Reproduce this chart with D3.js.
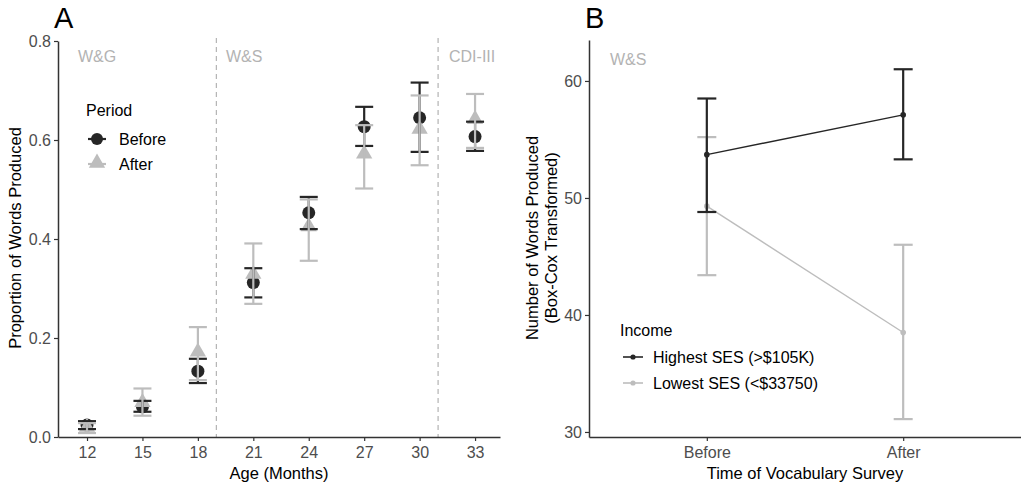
<!DOCTYPE html>
<html>
<head>
<meta charset="utf-8">
<script src="https://cdn.jsdelivr.net/npm/d3@7"></script>
<style>
  body { margin: 0; background: #fff; }
  svg { font-family: "Liberation Sans", Arial, sans-serif; }
</style>
</head>
<body>
<div class="vis"></div>
<script>
// ---- data, panel A ----
var ages = [12, 15, 18, 21, 24, 27, 30, 33];
var beforeMean = [0.024, 0.061, 0.133, 0.312, 0.453, 0.627, 0.645, 0.607];
var beforeLo   = [0.016, 0.051, 0.109, 0.282, 0.420, 0.588, 0.576, 0.578];
var beforeHi   = [0.032, 0.073, 0.158, 0.341, 0.485, 0.667, 0.716, 0.637];
var afterMean  = [0.018, 0.068, 0.170, 0.327, 0.423, 0.570, 0.620, 0.640];
var afterLo    = [0.008, 0.043, 0.115, 0.269, 0.356, 0.502, 0.549, 0.584];
var afterHi    = [0.028, 0.098, 0.222, 0.391, 0.480, 0.630, 0.690, 0.693];
var formLabels = ["W&G", "W&S", "CDI-III"];
var formBreaks = [19, 31];

// ---- data, panel B ----
var times = ["Before", "After"];
var highMean = [53.7, 57.1];
var highLo   = [48.8, 53.3];
var highHi   = [58.5, 61.0];
var lowMean  = [49.3, 38.5];
var lowLo    = [43.4, 31.1];
var lowHi    = [55.2, 46.0];
var incomeLabels = ["Highest SES (>$105K)", "Lowest SES (<$33750)"];

var dark = "#262626", light = "#bdbdbd", axisCol = "#333333", tickText = "#4d4d4d";
var FS = 16;

var svg = d3.select(".vis").append("svg")
  .attr("width", 1021).attr("height", 486);

function styleAxis(a) {
  a.select(".domain").attr("stroke", axisCol).attr("stroke-width", 1.5);
  a.selectAll(".tick line").attr("stroke", axisCol).attr("stroke-width", 1.2);
  a.selectAll(".tick text").attr("fill", tickText).attr("font-size", FS)
    .attr("font-family", "Liberation Sans, Arial, sans-serif");
}

function errBars(g, rows, x, y, lo, hi, col, w, sw) {
  var eb = g.append("g");
  rows.forEach(function(d) {
    var cx = x(d);
    eb.append("line").attr("x1", cx).attr("x2", cx).attr("y1", y(lo(d))).attr("y2", y(hi(d)))
      .attr("stroke", col).attr("stroke-width", sw);
    [lo(d), hi(d)].forEach(function(v) {
      eb.append("line").attr("x1", cx - w / 2).attr("x2", cx + w / 2).attr("y1", y(v)).attr("y2", y(v))
        .attr("stroke", col).attr("stroke-width", sw);
    });
  });
}

// ================= Panel A =================
var xA = d3.scaleLinear().domain([10.43, 34.35]).range([58, 500]);
var yA = d3.scaleLinear().domain([0, 0.8]).range([437, 41]);

var gA = svg.append("g");

// dashed separators between forms
gA.selectAll(".sep").data(formBreaks).enter().append("line")
  .attr("x1", d => xA(d)).attr("x2", d => xA(d))
  .attr("y1", 38).attr("y2", 437)
  .attr("stroke", "#b3b3b3").attr("stroke-width", 1.2)
  .attr("stroke-dasharray", "5,4");

gA.selectAll(".form").data(formLabels).enter().append("text")
  .attr("x", (d, i) => [78, 226, 449][i]).attr("y", 62)
  .attr("fill", "#b3b3b3").attr("font-size", FS)
  .text(d => d);

var axA_x = gA.append("g").attr("transform", "translate(0,437)")
  .call(d3.axisBottom(xA).tickValues(ages).tickSize(4).tickSizeOuter(0));
var axA_y = gA.append("g").attr("transform", "translate(58,0)")
  .call(d3.axisLeft(yA).tickValues([0, 0.2, 0.4, 0.6, 0.8]).tickFormat(d3.format(".1f")).tickSize(4).tickSizeOuter(0));
styleAxis(axA_x); styleAxis(axA_y);
axA_x.selectAll(".tick text").attr("dy", "0.85em");

var rowsA = ages.map(function(a, i) {
  return {age: a, bm: beforeMean[i], bl: beforeLo[i], bh: beforeHi[i],
          am: afterMean[i], al: afterLo[i], ah: afterHi[i]};
});

var tri = d3.symbol().type(d3.symbolTriangle).size(115);

// points, then error bars on top
gA.selectAll(".pb").data(rowsA).enter().append("circle")
  .attr("cx", d => xA(d.age)).attr("cy", d => yA(d.bm)).attr("r", 6.5).attr("fill", dark);
gA.selectAll(".pa").data(rowsA).enter().append("path")
  .attr("d", tri).attr("fill", light)
  .attr("transform", d => "translate(" + xA(d.age) + "," + (yA(d.am) - 1) + ")");

errBars(gA, rowsA, d => xA(d.age), yA, d => d.bl, d => d.bh, dark, 18, 2.2);
errBars(gA, rowsA, d => xA(d.age), yA, d => d.al, d => d.ah, light, 18, 2.2);

svg.append("text").attr("x", 54).attr("y", 28).attr("font-size", 29).attr("fill", "#000").text("A");
svg.append("text").attr("x", 279).attr("y", 479).attr("text-anchor", "middle")
  .attr("font-size", 16.5).attr("fill", "#000").text("Age (Months)");
svg.append("text").attr("transform", "translate(21,238) rotate(-90)").attr("text-anchor", "middle")
  .attr("font-size", 16.5).attr("fill", "#000").text("Proportion of Words Produced");

// legend A
var legA = svg.append("g");
legA.append("text").attr("x", 86).attr("y", 116).attr("font-size", FS).text("Period");
legA.append("line").attr("x1", 88).attr("x2", 106).attr("y1", 139).attr("y2", 139).attr("stroke", dark).attr("stroke-width", 2.2);
legA.append("circle").attr("cx", 97).attr("cy", 139).attr("r", 6).attr("fill", dark);
legA.append("line").attr("x1", 88).attr("x2", 106).attr("y1", 164).attr("y2", 164).attr("stroke", light).attr("stroke-width", 2.2);
legA.append("path").attr("d", tri).attr("fill", light).attr("transform", "translate(97,163)");
legA.append("text").attr("x", 119).attr("y", 145).attr("font-size", FS).text("Before");
legA.append("text").attr("x", 119).attr("y", 170).attr("font-size", FS).text("After");

// ================= Panel B =================
var xB = d3.scalePoint().domain(times).range([589, 1021]).padding(0.6);
var yB = d3.scaleLinear().domain([29.57, 63.5]).range([437, 40]);

var gB = svg.append("g");
var axB_x = gB.append("g").attr("transform", "translate(0,437)")
  .call(d3.axisBottom(xB).tickSize(4).tickSizeOuter(0));
var axB_y = gB.append("g").attr("transform", "translate(589,0)")
  .call(d3.axisLeft(yB).tickValues([30, 40, 50, 60]).tickSize(4).tickSizeOuter(0));
styleAxis(axB_x); styleAxis(axB_y);
axB_x.selectAll(".tick text").attr("dy", "0.85em");

gB.append("text").attr("x", 610).attr("y", 65).attr("fill", "#b3b3b3").attr("font-size", FS).text("W&S");

var groupsB = [
  {col: light, mean: lowMean, lo: lowLo, hi: lowHi},
  {col: dark, mean: highMean, lo: highLo, hi: highHi}
];
var line = d3.line().x(d => xB(d.t)).y(d => yB(d.m));
groupsB.forEach(function(g) {
  var rows = times.map(function(t, i) { return {t: t, m: g.mean[i], l: g.lo[i], h: g.hi[i]}; });
  errBars(gB, rows, d => xB(d.t), yB, d => d.l, d => d.h, g.col, 19, 2.2);
  gB.append("path").datum(rows).attr("d", line).attr("fill", "none")
    .attr("stroke", g.col).attr("stroke-width", 1.4);
  gB.selectAll(null).data(rows).enter().append("circle")
    .attr("cx", d => xB(d.t)).attr("cy", d => yB(d.m)).attr("r", 2.8).attr("fill", g.col);
});

svg.append("text").attr("x", 585).attr("y", 28).attr("font-size", 29).attr("fill", "#000").text("B");
svg.append("text").attr("x", 805).attr("y", 479).attr("text-anchor", "middle")
  .attr("font-size", 16.5).attr("fill", "#000").text("Time of Vocabulary Survey");
var yt = svg.append("text").attr("transform", "translate(538,238) rotate(-90)").attr("text-anchor", "middle")
  .attr("font-size", 16.5).attr("fill", "#000");
yt.append("tspan").attr("x", 0).attr("dy", 0).text("Number of Words Produced");
yt.append("tspan").attr("x", 0).attr("dy", 19).text("(Box-Cox Transformed)");

// legend B
var legB = svg.append("g");
legB.append("text").attr("x", 620).attr("y", 336).attr("font-size", FS).text("Income");
[dark, light].forEach(function(c, i) {
  var yy = 357 + i * 26;
  legB.append("line").attr("x1", 623).attr("x2", 643).attr("y1", yy).attr("y2", yy).attr("stroke", c).attr("stroke-width", 1.6);
  legB.append("circle").attr("cx", 633).attr("cy", yy).attr("r", 2.6).attr("fill", c);
  legB.append("text").attr("x", 653).attr("y", yy + 6).attr("font-size", FS).text(incomeLabels[i]);
});
</script>
</body>
</html>
